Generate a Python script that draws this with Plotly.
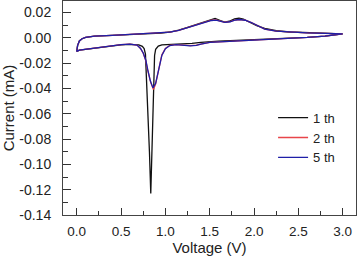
import plotly.graph_objects as go

# ---- data (Voltage in V, Current in mA) ----
v1 = [3.00, 2.90, 2.80, 2.60, 2.40, 2.20, 2.00, 1.80, 1.60, 1.50, 1.40, 1.30, 1.20, 1.10, 1.02,
      0.96, 0.92, 0.89, 0.878, 0.872, 0.86, 0.848, 0.835, 0.82, 0.80, 0.785, 0.775, 0.76, 0.74,
      0.70, 0.60, 0.50, 0.40, 0.30, 0.20, 0.10, 0.03, 0.00,
      0.01, 0.03, 0.06, 0.10, 0.20, 0.40, 0.60, 0.80, 0.95, 1.05, 1.15, 1.25, 1.35, 1.45, 1.52,
      1.56, 1.62, 1.67, 1.72, 1.78, 1.83, 1.88, 1.95, 2.03, 2.12, 2.25, 2.40, 2.60, 2.80, 3.00]
i1 = [0.0031, 0.0020, 0.0012, 0.0002, -0.0005, -0.0011, -0.0016, -0.0021, -0.0027, -0.0030, -0.0036,
      -0.0044, -0.0047, -0.0048, -0.0049,
      -0.0056, -0.0066, -0.0092, -0.0140, -0.0300, -0.0600, -0.0950, -0.1230, -0.0900, -0.0550,
      -0.0300, -0.0130, -0.0085, -0.0068,
      -0.0056, -0.0052, -0.0056, -0.0064, -0.0072, -0.0080, -0.0090, -0.0098, -0.0108,
      -0.0060, -0.0025, -0.0008, 0.0003, 0.0012, 0.0019, 0.0025, 0.0032, 0.0037, 0.0045, 0.0060,
      0.0082, 0.0105, 0.0130, 0.0148,
      0.0153, 0.0136, 0.0124, 0.0130, 0.0148, 0.0154, 0.0146, 0.0122, 0.0095, 0.0074, 0.0055,
      0.0045, 0.0039, 0.0035, 0.0031]

v2 = [3.00, 2.90, 2.80, 2.60, 2.40, 2.20, 2.00, 1.80, 1.60, 1.50, 1.40, 1.35, 1.28, 1.20, 1.12,
      1.05, 1.00, 0.96, 0.92, 0.89, 0.865, 0.835, 0.80, 0.78, 0.75, 0.72, 0.68, 0.60, 0.50, 0.40,
      0.30, 0.20, 0.10, 0.03, 0.00,
      0.01, 0.03, 0.06, 0.10, 0.20, 0.40, 0.60, 0.80, 0.95, 1.05, 1.15, 1.25, 1.35, 1.45, 1.52,
      1.57, 1.62, 1.67, 1.73, 1.79, 1.84, 1.90, 1.97, 2.05, 2.12, 2.25, 2.40, 2.60, 2.80, 3.00]
i2 = [0.0031, 0.0020, 0.0012, 0.0002, -0.0005, -0.0011, -0.0016, -0.0022, -0.0030, -0.0036, -0.0050,
      -0.0058, -0.0062, -0.0057, -0.0054,
      -0.0061, -0.0085, -0.0135, -0.0265, -0.0365, -0.0410, -0.0355, -0.0255, -0.0185, -0.0122,
      -0.0086, -0.0058, -0.0050, -0.0055, -0.0064,
      -0.0072, -0.0080, -0.0090, -0.0098, -0.0108,
      -0.0060, -0.0025, -0.0008, 0.0003, 0.0012, 0.0019, 0.0025, 0.0031, 0.0036, 0.0044, 0.0058,
      0.0079, 0.0101, 0.0125, 0.0138,
      0.0140, 0.0129, 0.0122, 0.0127, 0.0140, 0.0144, 0.0138, 0.0120, 0.0092, 0.0068, 0.0052,
      0.0044, 0.0039, 0.0035, 0.0031]

v5 = [3.00, 2.90, 2.80, 2.60, 2.40, 2.20, 2.00, 1.80, 1.60, 1.50, 1.40, 1.35, 1.28, 1.20, 1.12,
      1.05, 1.00, 0.96, 0.92, 0.89, 0.86, 0.83, 0.80, 0.78, 0.75, 0.72, 0.68, 0.60, 0.50, 0.40,
      0.30, 0.20, 0.10, 0.03, 0.00,
      0.01, 0.03, 0.06, 0.10, 0.20, 0.40, 0.60, 0.80, 0.95, 1.05, 1.15, 1.25, 1.35, 1.45, 1.52,
      1.57, 1.62, 1.67, 1.73, 1.79, 1.84, 1.90, 1.97, 2.05, 2.12, 2.25, 2.40, 2.60, 2.80, 3.00]
i5 = [0.0031, 0.0020, 0.0012, 0.0002, -0.0005, -0.0011, -0.0016, -0.0022, -0.0030, -0.0036, -0.0050,
      -0.0060, -0.0064, -0.0058, -0.0055,
      -0.0062, -0.0087, -0.0140, -0.0270, -0.0360, -0.0396, -0.0340, -0.0250, -0.0180, -0.0120,
      -0.0085, -0.0058, -0.0050, -0.0055, -0.0064,
      -0.0072, -0.0080, -0.0090, -0.0098, -0.0108,
      -0.0060, -0.0025, -0.0008, 0.0003, 0.0012, 0.0019, 0.0025, 0.0031, 0.0036, 0.0044, 0.0058,
      0.0078, 0.0100, 0.0124, 0.0136,
      0.0139, 0.0128, 0.0121, 0.0126, 0.0140, 0.0144, 0.0138, 0.0120, 0.0092, 0.0068, 0.0052,
      0.0044, 0.0039, 0.0035, 0.0031]

names = ["1 th", "2 th", "5 th"]
colors = ["#111111", "#e8454a", "#1f1fa8"]

x_ticks = [0.0, 0.5, 1.0, 1.5, 2.0, 2.5, 3.0]
x_ticklabels = ["0.0", "0.5", "1.0", "1.5", "2.0", "2.5", "3.0"]
y_ticks = [0.02, 0.00, -0.02, -0.04, -0.06, -0.08, -0.10, -0.12, -0.14]
y_ticklabels = ["0.02", "0.00", "-0.02", "-0.04", "-0.06", "-0.08", "-0.10", "-0.12", "-0.14"]

fig = go.Figure()
for vx, iy, nm, c in zip([v1, v2, v5], [i1, i2, i5], names, colors):
    fig.add_trace(go.Scatter(x=vx, y=iy, mode="lines", name=nm,
                             line=dict(color=c, width=1.3)))

fam = "Liberation Sans, Arial, sans-serif"
tcol = "#222222"

fig.update_layout(
    width=358, height=262,
    margin=dict(l=63, r=2, t=1, b=47, autoexpand=False),
    paper_bgcolor="white", plot_bgcolor="white",
    font=dict(family=fam, size=14, color=tcol),
    showlegend=True,
    legend=dict(x=0.717, y=0.525, xanchor="left", yanchor="top",
                bgcolor="rgba(0,0,0,0)", font=dict(size=13, family=fam, color=tcol),
                tracegroupgap=0),
)
fig.update_xaxes(
    range=[-0.155, 3.15], tickmode="array", tickvals=x_ticks, ticktext=x_ticklabels,
    ticks="inside", ticklen=7, tickwidth=1, tickcolor="#333333",
    minor=dict(ticks="inside", ticklen=4, dtick=0.25, tick0=0, tickcolor="#333333"),
    showline=True, linecolor="#444444", linewidth=1, mirror=True,
    showgrid=False, zeroline=False, automargin=False,
    tickfont=dict(size=13.5, family=fam, color=tcol),
    title=dict(text="Voltage (V)", standoff=4, font=dict(size=15, family=fam, color=tcol)),
    ticklabelstandoff=4,
)
fig.update_yaxes(
    range=[-0.14, 0.029], tickmode="array", tickvals=y_ticks, ticktext=y_ticklabels,
    ticks="inside", ticklen=8, tickwidth=1, tickcolor="#333333",
    minor=dict(ticks="inside", ticklen=5, dtick=0.01, tick0=0, tickcolor="#333333"),
    showline=True, linecolor="#444444", linewidth=1, mirror=True,
    showgrid=False, zeroline=False, automargin=False,
    tickfont=dict(size=14, family=fam, color=tcol),
    title=dict(text="Current (mA)", standoff=2, font=dict(size=15, family=fam, color=tcol)),
    ticklabelstandoff=8,
)

fig.write_html("out.html", config={"displayModeBar": False},
               post_script="document.body.style.margin='0';document.body.style.overflow='hidden';")
